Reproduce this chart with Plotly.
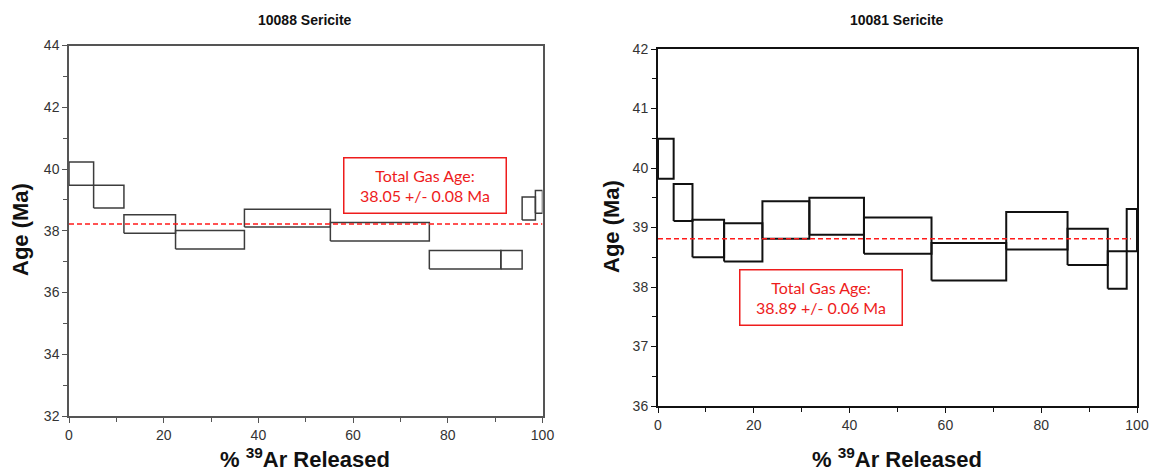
import plotly.graph_objects as go

# ---------------- data ----------------
# 10088 Sericite (left)
pct_bounds_L = [0, 5.2, 11.6, 22.5, 37.05, 55.2, 76.1, 91.2, 95.7, 98.5, 100]
age_hi_L = [40.23, 39.47, 38.52, 38.01, 38.70, 38.27, 37.36, 37.36, 39.09, 39.30]
age_lo_L = [39.47, 38.74, 37.92, 37.41, 38.12, 37.67, 36.76, 36.76, 38.35, 38.57]
line_L = 38.22
label_L = "Total Gas Age:<br>38.05 +/- 0.08 Ma"
title_L = "10088 Sericite"

# 10081 Sericite (right)
pct_bounds_R = [0, 3.27, 7.2, 13.8, 21.8, 31.6, 43.0, 57.1, 72.7, 85.5, 93.9, 97.85, 100]
age_hi_R = [40.49, 39.73, 39.13, 39.07, 39.44, 39.50, 39.17, 38.74, 39.26, 38.98, 38.60, 39.31]
age_lo_R = [39.82, 39.11, 38.50, 38.43, 38.81, 38.88, 38.56, 38.11, 38.63, 38.37, 37.97, 38.60]
line_R = 38.81
label_R = "Total Gas Age:<br>38.89 +/- 0.06 Ma"
title_R = "10081 Sericite"

x_ticks = [0, 20, 40, 60, 80, 100]

W, H = 1150, 471


def step_path(bounds, hi, lo):
    xs, ys = [], []
    for i in range(len(hi)):
        x0, x1 = bounds[i], bounds[i + 1]
        xs += [x0, x1, x1, x0, x0, None]
        ys += [lo[i], lo[i], hi[i], hi[i], lo[i], None]
    return xs, ys


fig = go.Figure()

xl, yl = step_path(pct_bounds_L, age_hi_L, age_lo_L)
fig.add_trace(go.Scatter(x=xl, y=yl, mode="lines", line=dict(color="#3c3c3c", width=1.5),
                         xaxis="x", yaxis="y", showlegend=False, hoverinfo="skip"))
fig.add_trace(go.Scatter(x=[0, 100], y=[line_L, line_L], mode="lines",
                         line=dict(color="#ff1a1a", width=1.6, dash="5px,3px"),
                         xaxis="x", yaxis="y", showlegend=False, hoverinfo="skip"))

xr, yr = step_path(pct_bounds_R, age_hi_R, age_lo_R)
fig.add_trace(go.Scatter(x=xr, y=yr, mode="lines", line=dict(color="#111111", width=2),
                         xaxis="x2", yaxis="y2", showlegend=False, hoverinfo="skip"))
fig.add_trace(go.Scatter(x=[0, 98.7], y=[line_R, line_R], mode="lines",
                         line=dict(color="#ff1a1a", width=1.6, dash="5px,3px"),
                         xaxis="x2", yaxis="y2", showlegend=False, hoverinfo="skip"))

tickfont = dict(family="Arial, Liberation Sans, sans-serif", size=14, color="#333333")


def xaxis(domain, anchor, col, lw):
    return dict(domain=domain, anchor=anchor, range=[0, 100], tickvals=x_ticks,
                showline=True, mirror=True, linecolor=col, linewidth=lw, automargin=False,
                ticks="outside", ticklen=5, tickcolor=col, tickwidth=1.2,
                minor=dict(dtick=10, tick0=0, ticks="outside", ticklen=4, tickcolor=col, tickwidth=1.2),
                showgrid=False, zeroline=False, tickfont=tickfont)


def yaxis(domain, anchor, rng, dtick, mdtick, col, lw):
    return dict(domain=domain, anchor=anchor, range=rng, dtick=dtick, tick0=rng[0],
                showline=True, mirror=True, linecolor=col, linewidth=lw, automargin=False,
                ticks="outside", ticklen=5, tickcolor=col, tickwidth=1.2,
                minor=dict(dtick=mdtick, tick0=rng[0], ticks="outside", ticklen=4, tickcolor=col, tickwidth=1.2),
                showgrid=False, zeroline=False, tickfont=tickfont)


fig.update_layout(
    width=W, height=H,
    margin=dict(l=0, r=0, t=0, b=0, autoexpand=False),
    paper_bgcolor="white", plot_bgcolor="white",
    xaxis=xaxis([69 / W, 542.5 / W], "y", "#555555", 1.5),
    yaxis=yaxis([1 - 416 / H, 1 - 45.5 / H], "x", [32, 44], 2, 1, "#555555", 1.5),
    xaxis2=xaxis([658 / W, 1137 / W], "y2", "#111111", 2),
    yaxis2=yaxis([1 - 406 / H, 1 - 49 / H], "x2", [36, 42], 1, 0.5, "#111111", 2),
)

bold = dict(family="Arial, Liberation Sans, sans-serif", color="#111111")
ann = []
# titles
ann.append(dict(text="<b>" + title_L + "</b>", x=305 / W, y=1 - 20 / H, xref="paper", yref="paper",
                showarrow=False, font=dict(size=14, **bold), xanchor="center", yanchor="middle"))
ann.append(dict(text="<b>" + title_R + "</b>", x=897 / W, y=1 - 20 / H, xref="paper", yref="paper",
                showarrow=False, font=dict(size=14, **bold), xanchor="center", yanchor="middle"))
# axis titles
for cx in (305, 897):
    ann.append(dict(text="<b>% <sup>39</sup>Ar Released</b>", x=cx / W, y=1 - 458 / H, xref="paper", yref="paper",
                    showarrow=False, font=dict(size=22, **bold), xanchor="center", yanchor="middle"))
ann.append(dict(text="<b>Age (Ma)</b>", x=20 / W, y=1 - 230 / H, xref="paper", yref="paper", textangle=-90,
                showarrow=False, font=dict(size=22, **bold), xanchor="center", yanchor="middle"))
ann.append(dict(text="<b>Age (Ma)</b>", x=611 / W, y=1 - 227 / H, xref="paper", yref="paper", textangle=-90,
                showarrow=False, font=dict(size=22, **bold), xanchor="center", yanchor="middle"))
# total gas age boxes
boxfont = dict(family="Lato, Open Sans, sans-serif", size=16, color="#ee1c1c")
ann.append(dict(text=label_L, x=424.7 / W, y=1 - 185 / H, xref="paper", yref="paper",
                showarrow=False, font=boxfont, bordercolor="#ee1c1c", borderwidth=1.5, borderpad=0,
                width=161, height=54, bgcolor="white", align="center", xanchor="center", yanchor="middle"))
ann.append(dict(text=label_R, x=821 / W, y=1 - 297.5 / H, xref="paper", yref="paper",
                showarrow=False, font=boxfont, bordercolor="#ee1c1c", borderwidth=1.5, borderpad=0,
                width=161, height=54, bgcolor="white", align="center", xanchor="center", yanchor="middle"))
fig.update_layout(annotations=ann)

fig.write_html("out.html", config={"displayModeBar": False},
               post_script="document.body.style.margin='0';document.body.style.overflow='hidden';")
